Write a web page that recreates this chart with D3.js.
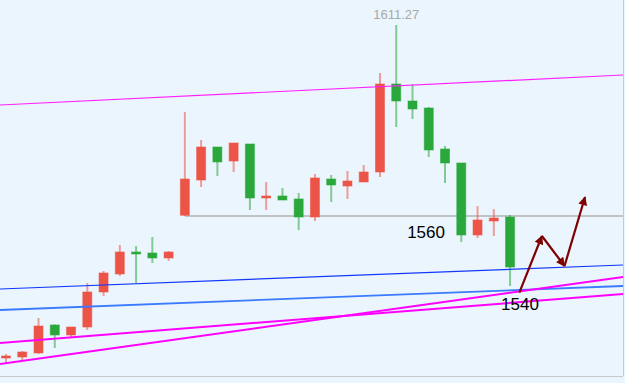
<!DOCTYPE html>
<html>
<head>
<meta charset="utf-8">
<script src="https://cdn.jsdelivr.net/npm/d3@7/dist/d3.min.js"></script>
<style>
html,body{margin:0;padding:0;background:#ebf5fe;}
svg{display:block;}
</style>
</head>
<body>
<svg id="chart" width="625" height="383"></svg>
<script>
// ---- DATA ----
const categories = d3.range(1, 33).map(String);
const opens  = [1521.88,1522.15,1523.23,1530.74,1528.06,1530.20,1539.60,1544.43,1550.34,1550.07,1548.73,1560.20,1569.66,1578.52,1574.76,1579.33,1564.83,1565.37,1564.56,1559.73,1569.93,1568.05,1569.13,1571.81,1595.43,1590.87,1588.99,1577.98,1574.23,1554.90,1558.66,1559.73];
const highs  = [1522.96,1523.76,1532.62,1530.90,1530.20,1542.02,1545.24,1552.22,1551.95,1554.36,1550.60,1587.92,1580.40,1578.52,1579.60,1579.33,1569.13,1567.52,1566.17,1571.27,1571.01,1572.08,1573.69,1598.39,1611.27,1595.43,1589.26,1578.79,1574.23,1562.68,1561.88,1560.27];
const lows   = [1520.81,1521.35,1522.96,1524.57,1527.52,1529.40,1538.53,1543.89,1542.02,1547.38,1547.92,1560.00,1567.78,1570.74,1571.81,1561.61,1561.61,1564.29,1556.24,1558.66,1563.76,1564.56,1569.13,1570.47,1583.89,1586.04,1575.84,1568.86,1553.02,1554.09,1554.63,1541.21];
const closes = [1522.42,1523.49,1530.47,1528.06,1530.20,1539.60,1544.70,1550.34,1549.80,1548.73,1550.34,1569.93,1578.52,1574.50,1579.60,1564.83,1565.37,1564.29,1559.73,1570.20,1568.32,1569.40,1571.81,1595.43,1590.87,1588.72,1577.72,1574.23,1554.90,1558.93,1559.46,1546.31];

// trend lines: [startIndex, startPrice, endIndex, endPrice]
const trendUpper     = [-0.37, 1589.80, 37.95, 1597.85];
const trendBlueDark  = [-0.37, 1540.40, 37.95, 1546.85];
const trendBlueLight = [-0.37, 1534.77, 37.95, 1541.21];
const trendMagentaA  = [-0.37, 1525.91, 37.95, 1539.06];
const trendMagentaB  = [-0.37, 1520.27, 37.95, 1543.63];
// horizontal level line
const levelLine = [11, 1560, 37.95];
// projected path arrows: [index, price]
const arrowPoints = [[31.57, 1539.41], [32.96, 1554.63], [34.35, 1546.58], [35.61, 1565.10]];
// annotation labels: [text, index, price]
const labels = [["1560", 24.67, 1554.2], ["1540", 30.45, 1534.9]];
const maxLabel = "1611.27";

// ---- LAYOUT ----
const W = 623, H = 376;
const svg = d3.select("#chart");
svg.append("rect").attr("x",0).attr("y",0).attr("width",625).attr("height",383).attr("fill","#ebf5fe");

const x = d3.scaleLinear().domain([0, 31]).range([6, 510.06]);
const y = d3.scaleLinear().domain([1517.05, 1617.98]).range([H, 0]);

const defs = svg.append("defs");
defs.append("clipPath").attr("id","clip")
  .append("rect").attr("x",0).attr("y",0).attr("width",W).attr("height",H);
defs.append("marker").attr("id","arrow")
  .attr("viewBox","0 0 10 10").attr("refX",9).attr("refY",5)
  .attr("markerWidth",13).attr("markerHeight",9).attr("markerUnits","userSpaceOnUse")
  .attr("orient","auto")
  .append("path").attr("d","M0,0 L10,5 L0,10 Z").attr("fill","#7f0000");

const g = svg.append("g").attr("clip-path","url(#clip)");

// axes borders
svg.append("line").attr("x1",0).attr("x2",W).attr("y1",H+0.5).attr("y2",H+0.5).attr("stroke","#c6cacf").attr("stroke-width",1);
svg.append("line").attr("x1",W+0.5).attr("x2",W+0.5).attr("y1",0).attr("y2",H).attr("stroke","#c6cacf").attr("stroke-width",1);

// level line
g.append("line")
  .attr("x1", x(levelLine[0])).attr("x2", x(levelLine[2]))
  .attr("y1", y(levelLine[1])).attr("y2", y(levelLine[1]))
  .attr("stroke","#b3b3b3").attr("stroke-width",1.3);

// candles
const candles = categories.map((c,i)=>({c, i, o:opens[i], h:highs[i], l:lows[i], cl:closes[i]}));
const RED = "#ec5447", GREEN = "#2aa83b";
const bw = 9;
const cg = g.append("g").selectAll("g").data(candles).join("g");
cg.append("line")
  .attr("x1", d=>x(d.i)).attr("x2", d=>x(d.i))
  .attr("y1", d=>y(d.h)).attr("y2", d=>y(d.l))
  .attr("stroke", d=> d.cl>=d.o ? RED : GREEN)
  .attr("stroke-opacity",0.55).attr("stroke-width",2);
cg.append("rect")
  .attr("x", d=>x(d.i)-bw/2).attr("width", bw)
  .attr("y", d=>y(Math.max(d.o,d.cl)))
  .attr("height", d=>Math.max(1.5, y(Math.min(d.o,d.cl)) - y(Math.max(d.o,d.cl))))
  .attr("fill", d=> d.cl>=d.o ? RED : GREEN)
  .attr("stroke", d=> d.cl>=d.o ? RED : GREEN)
  .attr("stroke-opacity",0.55).attr("stroke-width",1);

// trend lines
const trendStyles = [
  [trendUpper, "#ff22ff", 1.2],
  [trendBlueDark, "#1238ff", 1.2],
  [trendBlueLight, "#3a7aff", 1.8],
  [trendMagentaA, "#ff00ff", 2],
  [trendMagentaB, "#ff00ff", 2]
];
trendStyles.forEach(([t,col,w])=>{
  g.append("line")
    .attr("x1", x(t[0])).attr("y1", y(t[1]))
    .attr("x2", x(t[2])).attr("y2", y(t[3]))
    .attr("stroke", col).attr("stroke-width", w);
});

// max label
const maxIdx = d3.maxIndex(highs);
svg.append("text").attr("x", x(maxIdx)).attr("y", y(highs[maxIdx]) - 6)
  .attr("text-anchor","middle").attr("font-family","Liberation Sans, Arial, sans-serif")
  .attr("font-size",13).attr("fill","#a8a8a8").text(maxLabel);

// annotation labels
labels.forEach(([t,i,p])=>{
  svg.append("text").attr("x", x(i)).attr("y", y(p))
    .attr("font-family","Liberation Sans, Arial, sans-serif").attr("font-size",17)
    .attr("fill","#000").text(t);
});

// arrows
for (let k=0;k<arrowPoints.length-1;k++){
  const a = arrowPoints[k], b = arrowPoints[k+1];
  svg.append("line")
    .attr("x1", x(a[0])).attr("y1", y(a[1]))
    .attr("x2", x(b[0])).attr("y2", y(b[1]))
    .attr("stroke","#7f0000").attr("stroke-width",2.2)
    .attr("marker-end","url(#arrow)");
}
</script>
</body>
</html>
